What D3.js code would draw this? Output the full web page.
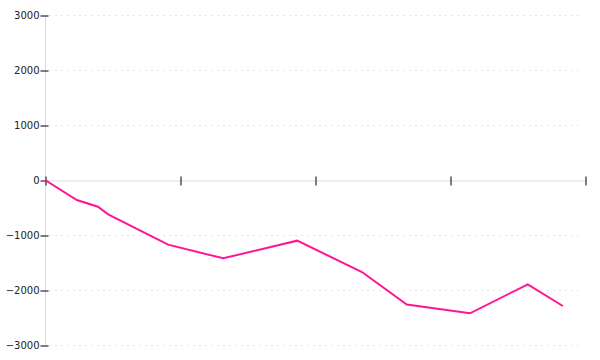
<!DOCTYPE html>
<html><head><meta charset="utf-8">
<script src="https://cdn.jsdelivr.net/npm/d3@7"></script>
<style>body{margin:0;background:#fff}svg{display:block}</style>
</head><body>
<svg id="c" width="600" height="360"></svg>
<script>
const xValues = [0, 5.9, 9.8, 11.7, 22.8, 33, 46.7, 58.7, 67, 78.7, 89.4, 95.9];
const yValues = [0, -364, -485, -624, -1176, -1424, -1103, -1673, -2264, -2424, -1897, -2291];
const xTicks = [0, 25, 50, 75, 100];
const yTicks = [3000, 2000, 1000, 0, -1000, -2000, -3000];

const svg = d3.select("#c");
const x = d3.scaleLinear().domain([0, 100]).range([45, 585]);
const y = d3.scaleLinear().domain([-3000, 3000]).range([345, 15]);
const font = "DejaVu Sans, sans-serif";

// grid
svg.append("g").selectAll("line").data(yTicks.filter(d => d !== 0)).join("line")
  .attr("x1", 49).attr("x2", 583)
  .attr("y1", d => Math.round(y(d)) + 0.5).attr("y2", d => Math.round(y(d)) + 0.5)
  .attr("stroke", "#e6e6e6").attr("stroke-dasharray", "2,4");

// y axis
const gy = svg.append("g").attr("transform", "translate(45.5,0.5)")
  .call(d3.axisLeft(y).tickValues(yTicks).tickFormat(d3.format("d")).tickSize(5).tickPadding(1).tickSizeOuter(0));
gy.select(".domain").attr("stroke", "#ddd").attr("d", `M0,${y(3000)}V${y(-3000)}`);
gy.selectAll(".tick line").attr("x1", 3).attr("x2", -5).attr("stroke", "#000");
gy.selectAll(".tick text").attr("font-family", font).attr("font-size", 10).attr("fill", "#222");

// x axis
const gx = svg.append("g").attr("transform", `translate(0.5,${Math.round(y(0)) + 0.5})`)
  .call(d3.axisBottom(x).tickValues(xTicks).tickFormat("").tickSize(5).tickSizeOuter(0));
gx.select(".domain").attr("stroke", "#ddd");
gx.selectAll(".tick line").attr("y1", -4).attr("y2", 5).attr("stroke", "#000");

// line
svg.append("path")
  .datum(xValues.map((d, i) => [d, yValues[i]]))
  .attr("fill", "none").attr("stroke", "#ff1493").attr("stroke-width", 2)
  .attr("d", d3.line().x(d => x(d[0])).y(d => y(d[1])));
</script>
</body></html>
